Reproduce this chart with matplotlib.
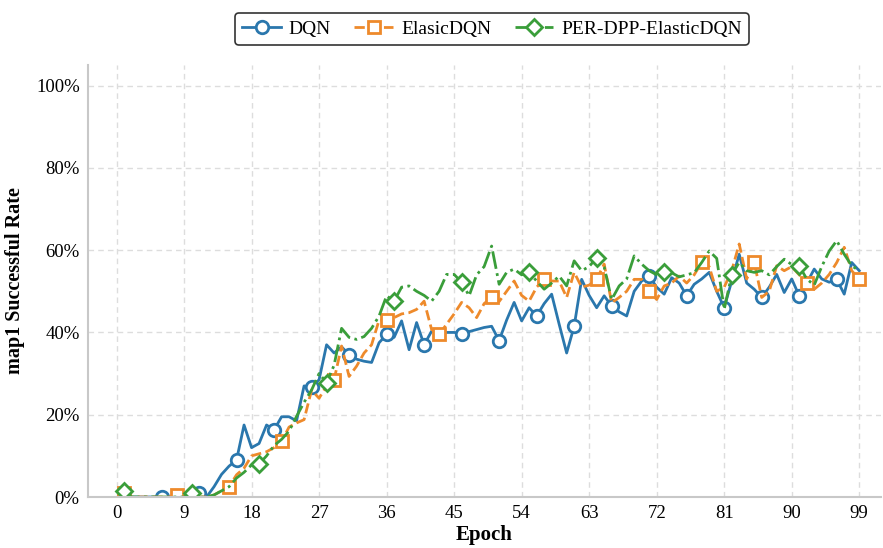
import matplotlib
matplotlib.use("Agg")
import matplotlib.pyplot as plt
import numpy as np

plt.rcParams['font.family'] = ['Liberation Serif', 'DejaVu Serif']

# epochs 1..99
epochs = np.arange(1, 100)

dqn = [0, 0, 0, 0, 0, 0, 0, 0, 0, 0.5,
       1, 0, 2.5, 5.5, 7.5, 9, 17.5, 12, 13, 17.5,
       16.3, 19.5, 19.5, 18.5, 27, 26.8, 28.5, 37, 35, 36.5,
       34.6, 33.5, 33, 32.7, 37.5, 39.5, 38.8, 42.8, 35.8, 42.4,
       37, 40.3, 40, 40, 40, 39.7, 40.2, 40.7, 41.2, 41.5,
       38, 43, 47.3, 42.8, 46, 44, 47, 49.3, 42, 35,
       41.5, 52.9, 49, 46, 48.9, 46.4, 45, 44, 50, 52.5,
       53.7, 51, 49.3, 53.3, 52, 48.9, 51.7, 53, 54.6, 50,
       46, 52.5, 59, 52, 50.5, 48.5, 51, 54.1, 49.7, 53,
       48.9, 52, 55.4, 53, 52.2, 52.9, 49.3, 57, 55]

elastic = [1, 0, 0, 0, 0, 0, 0, 0.5, 0, 0,
           0, 0, 0.5, 1.5, 2.5, 5.4, 7, 10, 10.5, 11,
           12, 13.5, 17, 18, 18.8, 26, 24, 27, 28.5, 36.7,
           29.3, 31.8, 35, 37, 43, 43, 43.6, 44.5, 44.8, 45.6,
           47.6, 40.7, 39.5, 42, 44.5, 47.3, 46, 43.6, 47, 48.5,
           47.5, 50, 52.5, 49, 47.6, 51, 52.9, 52.5, 52.5, 48.5,
           54.6, 51, 51.5, 52.9, 56.6, 47.2, 48.5, 50, 52.9, 52.9,
           50, 48, 51.3, 52, 53.7, 52, 54, 57, 56, 50,
           51, 55, 61.5, 53, 57, 48.5, 50, 56.2, 55, 56,
           54, 52.1, 50.5, 52, 54.1, 57, 60.7, 55, 52.9]

per_dpp = [1.5, 0, 0, 0, 0, 0, 0, 0, 0, 1,
           0, 0, 0.5, 1.5, 2.5, 4.6, 6, 7.8, 8, 10,
           12.5, 14, 16, 19.6, 23, 26, 30, 27.8, 32, 41,
           38.8, 38.3, 39, 41, 44, 48.9, 47.6, 51, 51.3, 50,
           49, 47.6, 50, 54.1, 54.1, 52.2, 48.9, 54, 56, 61,
           51.7, 54.6, 55.4, 54, 54.6, 52.5, 50.5, 52, 53.7, 51.3,
           57.4, 55, 56, 58.2, 55.9, 48, 51.3, 53, 58.6, 56.6,
           55, 54, 54.6, 54.5, 53.5, 54, 54.5, 57, 59.8, 58,
           45.6, 54, 57, 55, 54.6, 55, 54, 56, 57.8, 56.5,
           56.2, 53, 51.5, 56, 59.8, 62.3, 59, 56.2, 55]

labels = ['DQN', 'ElasicDQN', 'PER-DPP-ElasticDQN']
colors = ['#2a77ad', '#ee8a2b', '#3a9e3a']

fig = plt.figure(figsize=(8.83, 5.48), dpi=100)
ax = fig.add_axes([88 / 883, 1 - 497 / 548, (881 - 88) / 883, (497 - 65) / 548])

ax.plot(epochs, dqn, '-', color=colors[0], lw=2, marker='o', ms=9,
        mfc='white', mew=2, markevery=5, label=labels[0])
ax.plot(epochs, elastic, '--', color=colors[1], lw=2, marker='s', ms=9,
        mfc='white', mew=2, markevery=7, label=labels[1])
ax.plot(epochs, per_dpp, '-.', color=colors[2], lw=2, marker='D', ms=8,
        mfc='white', mew=2, markevery=9, label=labels[2])

ax.set_xlim(-3.8, 101.9)
ax.set_ylim(0, 105)
ax.set_xticks(np.arange(0, 100, 9))
ax.set_yticks(np.arange(0, 101, 20))
ax.set_yticklabels([f'{v}%' for v in range(0, 101, 20)])
ax.tick_params(length=0, labelsize=13.5, pad=6)
ax.grid(True, ls=(0, (4, 3)), color='#dddddd', lw=1)
ax.set_axisbelow(True)
for s in ['top', 'right']:
    ax.spines[s].set_visible(False)
for s in ['left', 'bottom']:
    ax.spines[s].set_color('#c8c8c8')
    ax.spines[s].set_linewidth(1.5)

ax.set_xlabel('Epoch', fontsize=15, fontweight='bold', labelpad=2)
ax.set_ylabel('map1 Successful Rate', fontsize=14.5, fontweight='bold', labelpad=8)

leg = fig.legend(loc='center', bbox_to_anchor=(492 / 883, 1 - 29 / 548), ncol=3,
                 fontsize=14, frameon=True, fancybox=True, handlelength=2,
                 columnspacing=1.2, handletextpad=0.4, borderpad=0.35)
leg.get_frame().set_edgecolor('black')
leg.get_frame().set_linewidth(1.2)

fig.savefig('out.png', dpi=100)
